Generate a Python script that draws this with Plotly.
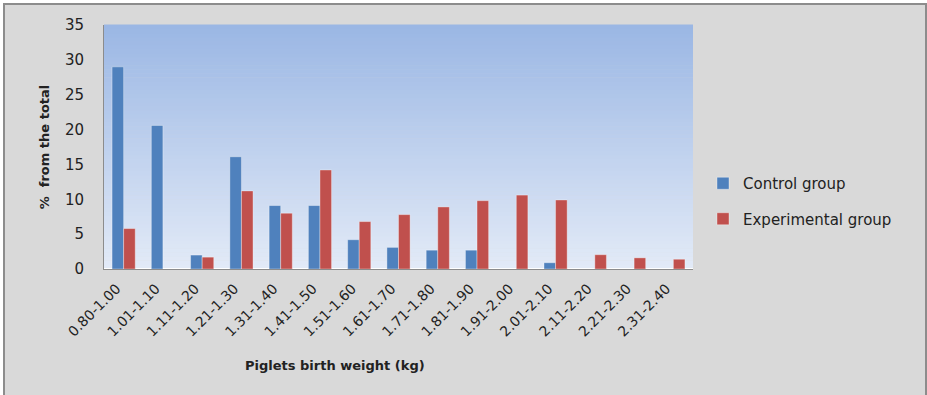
import plotly.graph_objects as go

categories = ["0.80-1.00", "1.01-1.10", "1.11-1.20", "1.21-1.30", "1.31-1.40",
              "1.41-1.50", "1.51-1.60", "1.61-1.70", "1.71-1.80", "1.81-1.90",
              "1.91-2.00", "2.01-2.10", "2.11-2.20", "2.21-2.30", "2.31-2.40"]
control = [29.0, 20.6, 2.0, 16.1, 9.1, 9.1, 4.2, 3.1, 2.7, 2.7, 0, 0.9, 0, 0, 0]
experimental = [5.8, 0, 1.7, 11.2, 8.0, 14.2, 6.8, 7.8, 8.9, 9.8, 10.6, 9.9, 2.05, 1.6, 1.4]
y_ticks = [0, 5, 10, 15, 20, 25, 30, 35]

W, H = 927, 395
L, R, T, B = 104, 693, 25, 269
FONT = "DejaVu Sans"

def px(x):
    return (x - L) / (R - L)

def py(y):
    return (B - y) / (B - T)

fig = go.Figure()
fig.add_trace(go.Bar(x=categories, y=control, name="Control group",
                     marker=dict(color="#4F81BD", line=dict(color="rgba(255,255,255,0.35)", width=1)),
                     legendgroup="a"))
fig.add_trace(go.Bar(x=categories, y=experimental, name="Experimental group",
                     marker=dict(color="#C0504D", line=dict(color="rgba(255,255,255,0.35)", width=1)),
                     legendgroup="b"))

shapes = []
# outer frame
shapes.append(dict(type="rect", xref="paper", yref="paper", layer="below",
                   x0=px(4), x1=px(926), y0=py(420), y1=py(4),
                   fillcolor="#D9D9D9", line=dict(color="#8C8C8C", width=2)))
# gradient plot background
n = 60
top = (155, 183, 228)
bot = (226, 234, 247)
for i in range(n):
    t = i / (n - 1)
    c = tuple(round(bot[k] + (top[k] - bot[k]) * t) for k in range(3))
    shapes.append(dict(type="rect", xref="x domain", yref="y domain", layer="below",
                       x0=0, x1=1, y0=i / n, y1=(i + 1) / n + 0.002,
                       fillcolor="rgb(%d,%d,%d)" % c, line=dict(width=0)))

fig.update_layout(
    width=W, height=H,
    margin=dict(l=L, r=W - R, t=T, b=H - B),
    paper_bgcolor="white",
    plot_bgcolor="rgba(0,0,0,0)",
    barmode="group", bargap=0.41, bargroupgap=0,
    font=dict(family=FONT, color="#222222"),
    shapes=shapes,
    legend=dict(x=px(703), y=py(167), xanchor="left", yanchor="top",
                font=dict(size=15, family=FONT, color="#222222"),
                bgcolor="rgba(0,0,0,0)", tracegroupgap=13, traceorder="grouped"),
    xaxis=dict(showgrid=False, tickangle=-45, tickfont=dict(size=14),
               showline=True, linecolor="#8C8C8C", linewidth=1, ticks="",
               ticklabelshift=-7, ticklabelstandoff=5),
    yaxis=dict(range=[0, 35], tickvals=y_ticks, showgrid=False, tickfont=dict(size=15),
               showline=True, linecolor="#8C8C8C", linewidth=1, ticks="",
               ticklabelstandoff=16,
               title=dict(text="<b>%  from the total</b>", font=dict(size=13), standoff=12)),
    annotations=[dict(text="<b>Piglets birth weight (kg)</b>", xref="paper", yref="paper",
                      x=px(335), y=py(365), xanchor="center", yanchor="middle",
                      showarrow=False, font=dict(size=13))],
)

fig.write_html("out.html", config={"displayModeBar": False},
               post_script="document.body.style.margin='0';")
